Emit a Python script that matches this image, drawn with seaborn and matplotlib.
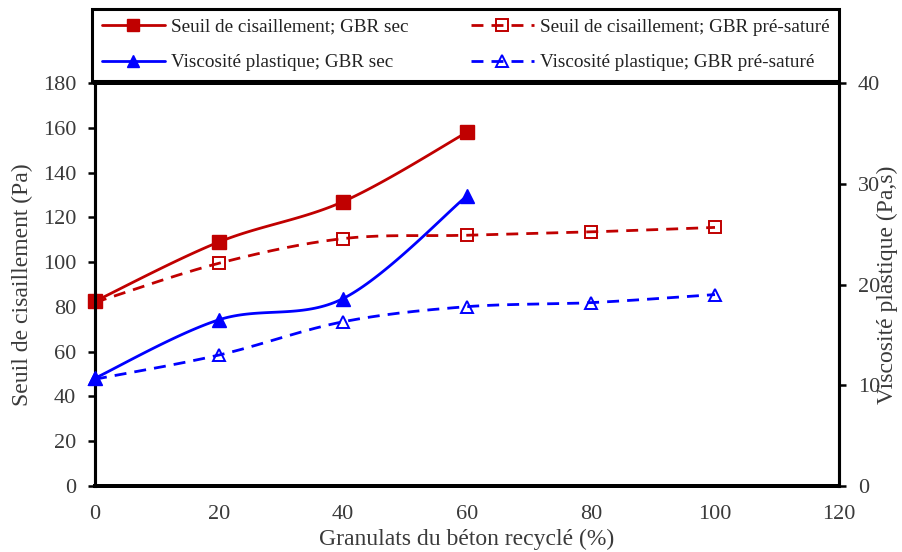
import numpy as np
import pandas as pd
import matplotlib
matplotlib.use("Agg")
import matplotlib.pyplot as plt
from matplotlib.lines import Line2D
import seaborn as sns

# Recycled-aggregate content (%)
gbr_sec = [0, 20, 40, 60]
gbr_sat = [0, 20, 40, 60, 80, 100]

# Shear yield stress (Pa)
seuil_sec = [82.5, 109, 127, 158]
seuil_sat = [82, 99.5, 110.5, 112, 113.5, 115.5]

# Plastic viscosity (Pa.s)
visco_sec = [10.7, 16.5, 18.6, 28.8]
visco_sat = [10.6, 13.0, 16.3, 17.8, 18.2, 19.0]

x_ticks = [0, 20, 40, 60, 80, 100, 120]
y_ticks_left = [0, 20, 40, 60, 80, 100, 120, 140, 160, 180]
y_ticks_right = [0, 10, 20, 30, 40]

RED = "#C00000"
BLUE = "#0000FF"
TXT = "#3a3a3a"


def smooth(x, y, n=40):
    """Catmull-Rom curve through the points (spreadsheet-style smoothed line)."""
    p = np.column_stack([x, y]).astype(float)
    p = np.vstack([p[0], p, p[-1]])
    out = []
    for i in range(1, len(p) - 2):
        p0, p1, p2, p3 = p[i - 1], p[i], p[i + 1], p[i + 2]
        t = np.linspace(0, 1, n, endpoint=(i == len(p) - 3))[:, None]
        seg = 0.5 * ((2 * p1) + (-p0 + p2) * t
                     + (2 * p0 - 5 * p1 + 4 * p2 - p3) * t ** 2
                     + (-p0 + 3 * p1 - 3 * p2 + p3) * t ** 3)
        out.append(seg)
    out = np.vstack(out)
    return pd.DataFrame({"x": out[:, 0], "y": out[:, 1]})


sns.set_theme(style="white")
plt.rcParams["font.family"] = ["Liberation Serif", "DejaVu Serif"]

fig = plt.figure(figsize=(9.03, 5.52), dpi=100)
ax = fig.add_axes([95 / 903, 1 - 486 / 552, 744 / 903, 403 / 552])
ax2 = ax.twinx()

LW = 2.0
DASH = (4.3, 2.9)

series = [
    (ax, gbr_sec, seuil_sec, RED, "s", True, "-"),
    (ax, gbr_sat, seuil_sat, RED, "s", False, "--"),
    (ax2, gbr_sec, visco_sec, BLUE, "^", True, "-"),
    (ax2, gbr_sat, visco_sat, BLUE, "^", False, "--"),
]
for a, xs, ys, col, mk, filled, ls in series:
    df = smooth(xs, ys)
    sns.lineplot(data=df, x="x", y="y", ax=a, sort=False, color=col,
                 lw=LW, estimator=None)
    l = a.lines[-1]
    if ls == "--":
        l.set_dashes(DASH)
    if filled:
        a.plot(xs, ys, ls="none", marker=mk, ms=9.5, color=col, mec=col, mfc=col,
               zorder=5, clip_on=False)
    else:
        a.plot(xs, ys, ls="none", marker=mk, ms=9, color=col, mec=col,
               mfc="none", mew=1.4, zorder=5, clip_on=False)

ax.set_xlim(0, 120)
ax.set_ylim(0, 180)
ax2.set_ylim(0, 40)
ax.set_xticks(x_ticks)
ax.set_yticks(y_ticks_left)
ax2.set_yticks(y_ticks_right)

tick_kw = dict(direction="out", length=5, width=1.8, colors="black",
               labelcolor=TXT, labelsize=16, pad=8.5)
ax.tick_params(axis="both", **tick_kw)
ax2.tick_params(axis="y", **tick_kw)

for a in (ax, ax2):
    for s in a.spines.values():
        s.set_color("black")
        s.set_linewidth(2.2)
    a.spines["top"].set_linewidth(2.8)
    a.spines["bottom"].set_linewidth(2.8)

ax.set_xlabel("Granulats du béton recyclé (%)", fontsize=17, color=TXT)
ax.set_ylabel("Seuil de cisaillement (Pa)", fontsize=17, color=TXT)
ax2.set_ylabel("Viscosité plastique (Pa,s)", fontsize=17, color=TXT)
ax.xaxis.set_label_coords(0.5, -0.105)
ax.yaxis.set_label_coords(-0.083, 0.5)
ax2.yaxis.set_label_coords(1.051, 0.5)

handles = [
    Line2D([], [], color=RED, lw=LW, marker="s", ms=8.5, mfc=RED),
    Line2D([], [], color=BLUE, lw=LW, marker="^", ms=8.5, mfc=BLUE),
    Line2D([], [], color=RED, lw=LW, ls=(0, DASH), marker="s", ms=8, mfc="none", mew=1.4),
    Line2D([], [], color=BLUE, lw=LW, ls=(0, DASH), marker="^", ms=8, mfc="none", mew=1.4),
]
labels = [
    "Seuil de cisaillement; GBR sec",
    "Viscosité plastique; GBR sec",
    "Seuil de cisaillement; GBR pré-saturé",
    "Viscosité plastique; GBR pré-saturé",
]
leg = fig.legend(handles, labels, loc="lower left",
                 bbox_to_anchor=(92 / 903, 1 - 81 / 552, 747 / 903, 69 / 552),
                 mode="expand", ncol=2, borderaxespad=0, fontsize=13.8,
                 handlelength=3.3, handletextpad=0.3, labelspacing=0.95,
                 borderpad=0.5, fancybox=False, framealpha=1,
                 edgecolor="black")
leg.get_frame().set_linewidth(2.2)
for t in leg.get_texts():
    t.set_color("#222222")

fig.savefig("out.png", dpi=100)
